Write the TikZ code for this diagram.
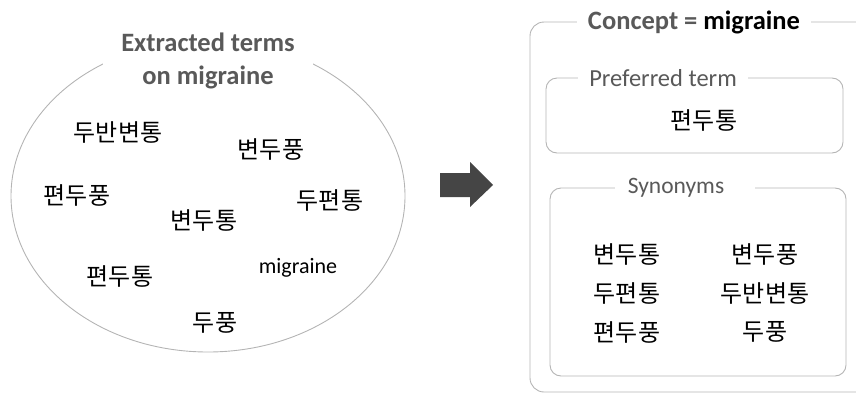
\documentclass[tikz,border=0pt]{standalone}
\usepackage{fontspec}
\usepackage{tikz}
\usepackage{xcolor}
\usetikzlibrary{shapes.geometric}
\setmainfont{Carlito}
\newfontfamily\kr{Noto Sans CJK KR}
\definecolor{linegray}{HTML}{B4B4B4}
\definecolor{titlegray}{HTML}{595959}
\definecolor{arrowgray}{HTML}{454545}
\tikzset{term/.style={font=\kr\fontsize{24}{24}\selectfont, inner sep=0pt}}
\tikzset{legend/.style={fill=white, inner xsep=13pt, inner ysep=2pt, text=titlegray}}
\tikzset{frame/.style={draw=linegray, line width=0.9pt, rounded corners=11pt}}

\begin{document}
\begin{tikzpicture}[x=1pt,y=-1pt]
  \useasboundingbox (0,0) rectangle (856,394);
  \clip (0,0) rectangle (856,394);

  % left: pool of extracted terms
  \node[ellipse, draw=linegray, line width=0.9pt, minimum width=394pt, minimum height=312pt] (pool) at (208,196) {};
  \node[legend, inner xsep=18pt, align=center, font=\bfseries\fontsize{26.5}{33}\selectfont] (poolname) at (208,61) {Extracted terms\\on migraine};
  \node[term] (t_dbbt) at (118,132) {두반변통};
  \node[term] (t_bdp) at (271,149) {변두풍};
  \node[term] (t_pdp) at (77,195) {편두풍};
  \node[term] (t_dpt) at (330,200) {두편통};
  \node[term] (t_bdt) at (204,220) {변두통};
  \node[term] (t_pdt) at (120,276) {편두통};
  \node[inner sep=0pt, font=\fontsize{22}{22}\selectfont] (t_mig) at (298,268) {migraine};
  \node[term] (t_dp) at (215,323) {두풍};

  % arrow
  \fill[arrowgray] (440,173) -- (470,173) -- (470,162) -- (493,185) -- (470,207) -- (470,197) -- (440,197) -- cycle;

  % right: concept
  \draw[frame, rounded corners=14pt] (530,22) rectangle (880,392);
  \node[legend, inner xsep=11pt, font=\bfseries\fontsize{26.5}{26.5}\selectfont] (concept) at (694,22) {Concept = \textcolor{black}{migraine}};

  \draw[frame] (546,78) rectangle (843,153);
  \node[legend, inner xsep=11pt, font=\fontsize{24.5}{24.5}\selectfont] (prefname) at (663,78) {Preferred term};
  \node[term] (pref) at (704,120) {편두통};

  \draw[frame] (550,188) rectangle (846,376);
  \node[legend, inner xsep=0pt, minimum width=140pt, font=\fontsize{23.5}{23.5}\selectfont] (synname) at (685,188) {Synonyms\hspace*{18pt}};
  \node[term] (s_bdt) at (627,254) {변두통};
  \node[term] (s_bdp) at (765,254) {변두풍};
  \node[term] (s_dpt) at (627,293) {두편통};
  \node[term] (s_dbbt) at (765,293) {두반변통};
  \node[term] (s_pdp) at (627,332) {편두풍};
  \node[term] (s_dp) at (765,332) {두풍};
\end{tikzpicture}
\end{document}
